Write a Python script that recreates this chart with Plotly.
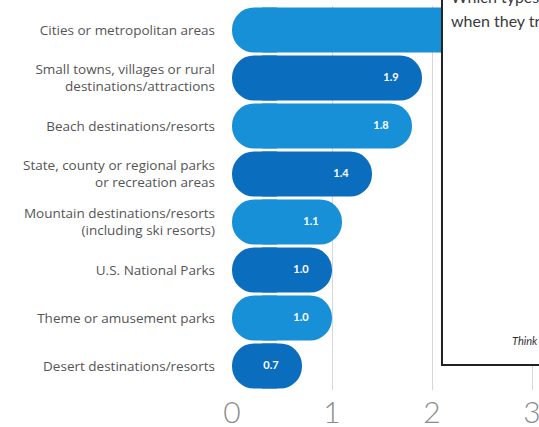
import plotly.graph_objects as go

# Destination types (top to bottom) and their values
categories = [
    "Cities or metropolitan areas",
    "Small towns, villages or rural<br>destinations/attractions",
    "Beach destinations/resorts",
    "State, county or regional parks<br>or recreation areas",
    "Mountain destinations/resorts<br>(including ski resorts)",
    "U.S. National Parks",
    "Theme or amusement parks",
    "Desert destinations/resorts",
]
values = [2.6, 1.9, 1.8, 1.4, 1.1, 1.0, 1.0, 0.7]
# the label of the top bar is hidden behind the inset panel
value_labels = ["", "1.9", "1.8", "1.4", "1.1", "1.0", "1.0", "0.7"]
x_ticks = [0, 1, 2, 3]

LIGHT = "#1890d7"
DARK = "#0b6dbd"
colors = [LIGHT if i % 2 == 0 else DARK for i in range(len(values))]

X_MAX = 3.07
CAP = 0.45    # length of the rounded left cap, in axis units
BODY = 0.30   # where the body of each bar starts, in axis units
RADIUS = 22   # corner radius in px
LABEL_INSET = 0.31  # distance of a value label's centre from the bar end

fig = go.Figure()

# Invisible hover points at each bar end on the main (visible) axis
fig.add_trace(go.Scatter(
    y=categories,
    x=values,
    mode="markers",
    marker=dict(size=12, opacity=0),
    hovertemplate="%{y}: %{x}<extra></extra>",
    showlegend=False,
))

# Rounded left cap of every bar: a negative bar on a shifted hidden axis,
# so its rounded tip lands on zero of the visible axis.
fig.add_trace(go.Bar(
    y=categories,
    x=[-CAP] * len(values),
    xaxis="x2",
    orientation="h",
    width=0.94,
    marker=dict(color=colors, cornerradius=RADIUS, line=dict(width=0)),
    hoverinfo="skip",
    showlegend=False,
))

# Body of every bar, rounded at its value end (axis x3 is shifted by BODY)
fig.add_trace(go.Bar(
    y=categories,
    x=[v - BODY for v in values],
    xaxis="x3",
    orientation="h",
    width=0.94,
    marker=dict(color=colors, cornerradius=RADIUS, line=dict(width=0)),
    hoverinfo="skip",
    showlegend=False,
))

# Value labels inside the tip of each bar, on the same shifted axis
fig.add_trace(go.Scatter(
    y=categories,
    x=[v - LABEL_INSET - BODY for v in values],
    xaxis="x3",
    mode="text",
    text=value_labels,
    textposition="middle center",
    textfont=dict(family="Lato", size=11, color="white", weight="bold"),
    hoverinfo="skip",
    showlegend=False,
))

hidden_axis = dict(overlaying="x", visible=False, showgrid=False, zeroline=False,
                   fixedrange=True, automargin=False)

fig.update_layout(
    width=539,
    height=427,
    margin=dict(l=232, r=0, t=6, b=37),
    paper_bgcolor="white",
    plot_bgcolor="white",
    barmode="overlay",
    xaxis=dict(
        range=[0, X_MAX],
        tickvals=x_ticks,
        ticktext=[str(t) for t in x_ticks],
        showgrid=True,
        gridcolor="#d6d6d6",
        gridwidth=1,
        zeroline=False,
        showline=False,
        ticks="",
        ticklabelstandoff=2,
        ticklabeloverflow="allow",
        automargin=False,
        tickfont=dict(family="Lato", size=30, color="#8c8c8c", weight=300),
        fixedrange=True,
    ),
    xaxis2=dict(range=[-CAP, X_MAX - CAP], **hidden_axis),
    xaxis3=dict(range=[-BODY, X_MAX - BODY], **hidden_axis),
    yaxis=dict(
        categoryorder="array",
        categoryarray=categories,
        range=[len(categories) - 0.5, -0.5],
        autorange=False,
        showgrid=False,
        zeroline=False,
        showline=False,
        ticks="",
        ticklabelstandoff=16,
        automargin=False,
        tickfont=dict(family="Open Sans", size=13.5, color="#555555"),
        fixedrange=True,
    ),
    font=dict(family="Lato"),
)

# Inset panel laid over the right side of the chart
fig.add_shape(
    type="rect",
    xref="paper", yref="paper",
    x0=0.684, x1=1.1, y0=0.065, y1=1.2,
    fillcolor="white",
    line=dict(color="#222222", width=2),
    layer="above",
)
fig.add_annotation(
    xref="paper", yref="paper",
    x=0.708, y=1.026, xanchor="left", yanchor="middle",
    text="Which types of destinations", showarrow=False,
    font=dict(family="Lato", size=16, color="#3a3a3a"),
)
fig.add_annotation(
    xref="paper", yref="paper",
    x=0.708, y=0.9635, xanchor="left", yanchor="middle",
    text="when they traveled last year?", showarrow=False,
    font=dict(family="Lato", size=16, color="#3a3a3a"),
)
fig.add_annotation(
    xref="paper", yref="paper",
    x=0.9055, y=0.130, xanchor="left", yanchor="middle",
    text="Think with Google", showarrow=False,
    font=dict(family="Lato", size=11, color="#333333", style="italic"),
)

fig.write_html("out.html")
